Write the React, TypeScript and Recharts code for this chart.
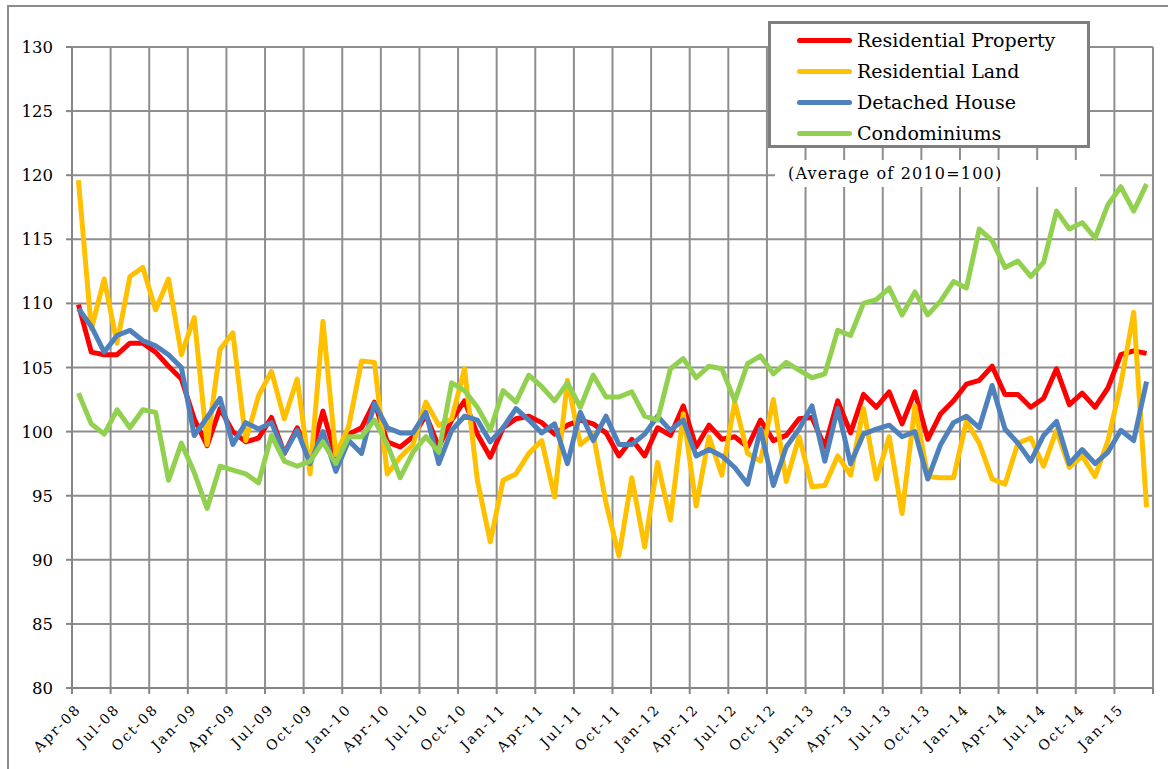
import React from 'react';
import { LineChart, Line, XAxis, YAxis, CartesianGrid } from 'recharts';

// Monthly index, Apr-08 .. Mar-15 (Average of 2010 = 100)
const TICK_LABELS = [
  'Apr-08', 'Jul-08', 'Oct-08', 'Jan-09', 'Apr-09', 'Jul-09', 'Oct-09',
  'Jan-10', 'Apr-10', 'Jul-10', 'Oct-10', 'Jan-11', 'Apr-11', 'Jul-11',
  'Oct-11', 'Jan-12', 'Apr-12', 'Jul-12', 'Oct-12', 'Jan-13', 'Apr-13',
  'Jul-13', 'Oct-13', 'Jan-14', 'Apr-14', 'Jul-14', 'Oct-14', 'Jan-15',
];

const RESIDENTIAL_PROPERTY = [
  109.9, 106.2, 106.0, 106.0, 106.9, 106.9, 106.2, 105.1, 104.1, 101.0,
  98.9, 101.8, 100.0, 99.2, 99.5, 101.1, 98.3, 100.3, 97.9, 101.6,
  98.0, 99.8, 100.3, 102.3, 99.2, 98.8, 99.6, 101.3, 98.8, 100.9,
  102.4, 99.8, 98.0, 100.3, 101.0, 101.2, 100.7, 99.8, 100.5, 100.9,
  100.6, 99.9, 98.1, 99.4, 98.1, 100.3, 99.7, 102.0, 98.8, 100.5,
  99.4, 99.6, 98.8, 100.9, 99.3, 99.7, 101.0, 101.1, 98.8, 102.4,
  99.9, 102.9, 101.9, 103.1, 100.6, 103.1, 99.4, 101.4, 102.4, 103.7,
  104.0, 105.1, 102.9, 102.9, 101.9, 102.6, 104.9, 102.1, 103.0, 101.9,
  103.4, 106.0, 106.3, 106.1,
];

const RESIDENTIAL_LAND = [
  119.6, 108.0, 111.9, 106.9, 112.1, 112.8, 109.5, 111.9, 106.0, 108.9,
  99.0, 106.4, 107.7, 99.3, 102.8, 104.7, 101.0, 104.1, 96.7, 108.6,
  98.2, 100.4, 105.5, 105.4, 96.7, 98.0, 99.0, 102.3, 100.5, 101.0,
  104.9, 96.2, 91.4, 96.2, 96.7, 98.3, 99.3, 94.9, 104.0, 99.0,
  99.8, 94.4, 90.3, 96.4, 91.0, 97.6, 93.1, 101.4, 94.2, 99.6,
  96.6, 102.3, 98.3, 97.7, 102.5, 96.1, 99.6, 95.7, 95.8, 98.1,
  96.6, 101.8, 96.3, 99.6, 93.6, 102.0, 96.5, 96.4, 96.4, 100.8,
  99.1, 96.3, 95.9, 99.1, 99.5, 97.3, 100.1, 97.2, 98.1, 96.5,
  99.3, 103.7, 109.3, 94.1,
];

const DETACHED_HOUSE = [
  109.6, 108.2, 106.2, 107.5, 107.9, 107.1, 106.7, 106.0, 105.0, 99.7,
  101.1, 102.6, 99.0, 100.7, 100.2, 100.7, 98.3, 100.1, 97.5, 100.0,
  96.9, 99.3, 98.3, 102.2, 100.3, 99.9, 99.9, 101.5, 97.5, 100.1,
  101.2, 100.9, 99.2, 100.3, 101.8, 100.9, 99.9, 100.6, 97.5, 101.5,
  99.3, 101.2, 99.0, 99.0, 99.8, 101.2, 100.1, 100.9, 98.1, 98.6,
  98.1, 97.2, 95.9, 100.2, 95.8, 98.8, 100.2, 102.0, 97.7, 101.8,
  97.5, 99.8, 100.2, 100.5, 99.6, 100.0, 96.3, 99.0, 100.7, 101.2,
  100.3, 103.6, 100.2, 99.1, 97.7, 99.7, 100.8, 97.5, 98.6, 97.5,
  98.4, 100.1, 99.3, 103.9,
];

const CONDOMINIUMS = [
  103.0, 100.6, 99.8, 101.7, 100.3, 101.7, 101.5, 96.2, 99.1, 96.8,
  94.0, 97.3, 97.0, 96.7, 96.0, 99.7, 97.7, 97.3, 97.7, 99.2,
  97.5, 99.6, 99.6, 100.9, 99.0, 96.4, 98.4, 99.6, 98.4, 103.8,
  103.2, 101.9, 100.1, 103.2, 102.3, 104.4, 103.5, 102.4, 103.8, 101.9,
  104.4, 102.7, 102.7, 103.1, 101.2, 100.9, 104.9, 105.7, 104.2, 105.1,
  104.9, 102.4, 105.3, 105.9, 104.5, 105.4, 104.8, 104.2, 104.5, 107.9,
  107.5, 110.0, 110.3, 111.2, 109.1, 110.9, 109.1, 110.2, 111.7, 111.2,
  115.8, 114.9, 112.8, 113.3, 112.1, 113.2, 117.2, 115.8, 116.3, 115.1,
  117.7, 119.1, 117.2, 119.3,
];

const SERIES = [
  { key: 'property', name: 'Residential Property', color: '#FF0000' },
  { key: 'land', name: 'Residential Land', color: '#FFC000' },
  { key: 'house', name: 'Detached House', color: '#4F81BD' },
  { key: 'condo', name: 'Condominiums', color: '#92D050' },
];

// each month sits in the middle of its slot, ticks fall on slot edges
const data = RESIDENTIAL_PROPERTY.map((v, i) => ({
  month: i + 0.5,
  property: v,
  land: RESIDENTIAL_LAND[i],
  house: DETACHED_HOUSE[i],
  condo: CONDOMINIUMS[i],
}));

const MONTH_COUNT = RESIDENTIAL_PROPERTY.length;
const xTicks = TICK_LABELS.map((_, k) => k * 3).concat(MONTH_COUNT);
const yTicks = [80, 85, 90, 95, 100, 105, 110, 115, 120, 125, 130];

const AXIS_GRAY = '#868686';
const GRID_GRAY = '#8e8e8e';

function MonthTick(props: any) {
  const { x, y, payload } = props;
  const label = TICK_LABELS[payload.value / 3];
  if (!label) return null;
  const ax = x + 10;
  const ay = y + 16;
  return (
    <text
      x={ax}
      y={ay}
      transform={`rotate(-45, ${ax}, ${ay})`}
      textAnchor="end"
      fontFamily="DejaVu Serif"
      fontSize={14}
      letterSpacing={2}
      fill="#000"
    >
      {label}
    </text>
  );
}

function ValueTick(props: any) {
  const { x, y, payload } = props;
  return (
    <text x={x} y={y} dy={6} textAnchor="end" fontFamily="DejaVu Serif" fontSize={16.5} fill="#000">
      {payload.value}
    </text>
  );
}

function LegendBox() {
  return (
    <div
      style={{
        position: 'absolute',
        left: 768,
        top: 21,
        width: 322,
        height: 127,
        boxSizing: 'border-box',
        border: '3px solid #7f7f7f',
        background: '#fff',
      }}
    >
      {SERIES.map((s, i) => (
        <div key={s.key} style={{ position: 'absolute', left: 0, top: 16 + i * 31, height: 0 }}>
          <div
            style={{
              position: 'absolute',
              left: 26,
              top: -2.5,
              width: 55,
              height: 5,
              borderRadius: 3,
              background: s.color,
            }}
          />
          <div
            style={{
              position: 'absolute',
              left: 86,
              top: -13,
              lineHeight: '26px',
              whiteSpace: 'nowrap',
              fontFamily: 'DejaVu Serif',
              fontSize: 19,
              color: '#000',
            }}
          >
            {s.name}
          </div>
        </div>
      ))}
    </div>
  );
}

export default function App() {
  return (
    <div style={{ position: 'absolute', left: 0, top: 0, width: 1168, height: 769, overflow: 'hidden', background: '#fff' }}>
      <div
        style={{
          position: 'absolute',
          left: 7,
          top: 5,
          width: 1300,
          height: 900,
          borderLeft: '2px solid #8c8c8c',
          borderTop: '2px solid #8c8c8c',
        }}
      />
      <div style={{ position: 'absolute', left: 0, top: 0 }}>
        <LineChart width={1168} height={769} data={data} margin={{ top: 47, right: 15, bottom: 0, left: 12 }}>
          <CartesianGrid stroke={GRID_GRAY} strokeWidth={2} />
          <XAxis
            type="number"
            dataKey="month"
            domain={[0, MONTH_COUNT]}
            ticks={xTicks}
            interval={0}
            height={81}
            tickSize={6}
            tickMargin={0}
            axisLine={{ stroke: AXIS_GRAY, strokeWidth: 2 }}
            tickLine={{ stroke: AXIS_GRAY, strokeWidth: 2 }}
            tick={<MonthTick />}
          />
          <YAxis
            type="number"
            domain={[80, 130]}
            ticks={yTicks}
            interval={0}
            width={60}
            tickSize={6}
            tickMargin={13}
            axisLine={{ stroke: AXIS_GRAY, strokeWidth: 2 }}
            tickLine={{ stroke: AXIS_GRAY, strokeWidth: 2 }}
            tick={<ValueTick />}
          />
          {SERIES.map((s) => (
            <Line
              key={s.key}
              type="linear"
              dataKey={s.key}
              name={s.name}
              stroke={s.color}
              strokeWidth={5}
              strokeLinejoin="round"
              dot={false}
              activeDot={false}
              isAnimationActive={false}
            />
          ))}
        </LineChart>
      </div>
      <LegendBox />
      <div
        style={{
          position: 'absolute',
          left: 775,
          top: 160,
          width: 325,
          height: 27,
          background: '#fff',
          fontFamily: 'DejaVu Serif',
          fontSize: 16,
          letterSpacing: 1.2,
          lineHeight: '27px',
          paddingLeft: 13,
          boxSizing: 'border-box',
          whiteSpace: 'nowrap',
          color: '#000',
        }}
      >
        (Average of 2010=100)
      </div>
    </div>
  );
}
